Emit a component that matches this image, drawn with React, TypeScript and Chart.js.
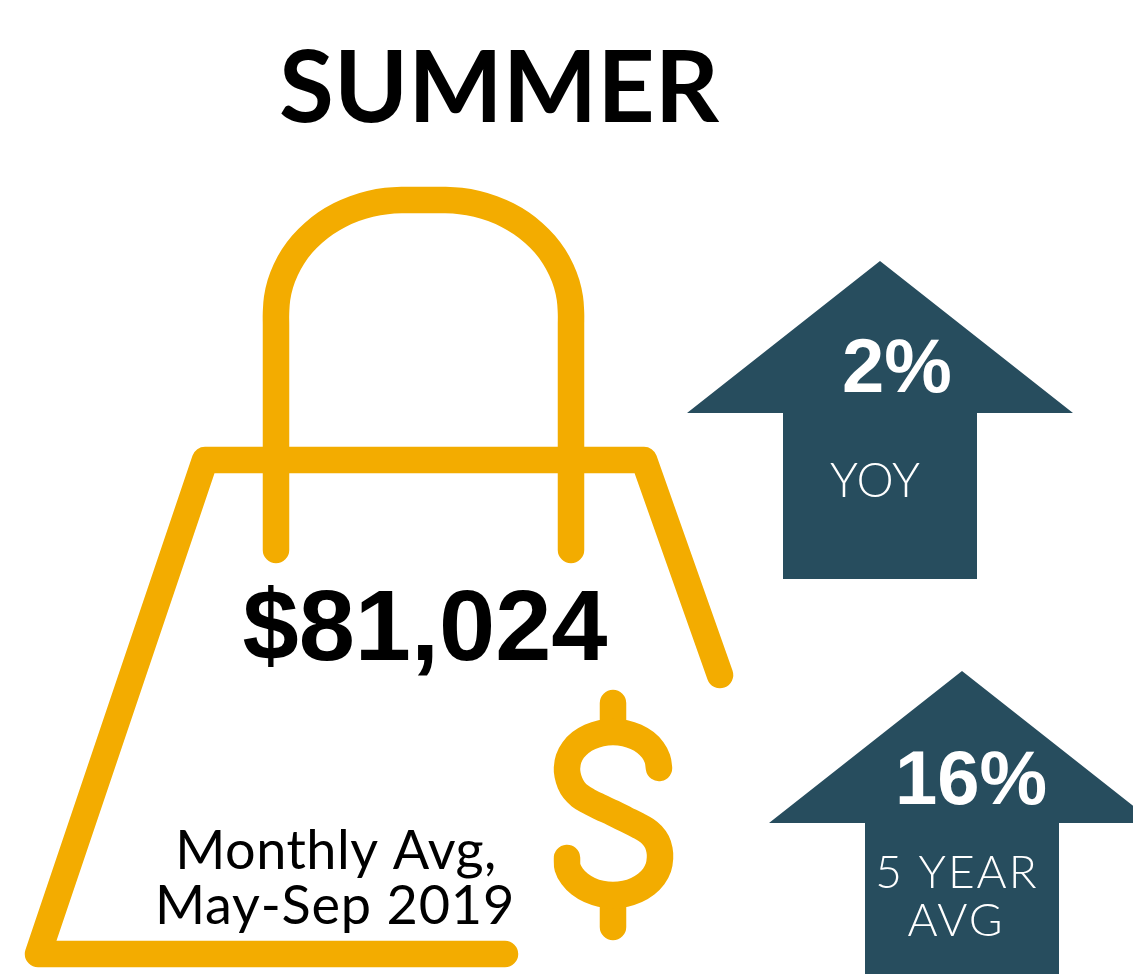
import React, { useEffect, useRef } from "react";
import { Chart, registerables } from "chart.js";

Chart.register(...registerables);

const GOLD = "#F3AC00";
const SLATE = "#274D5E";

const bagX = [505, 38, 205, 644, 720];
const bagY = [954, 954, 460, 460, 675];

const handleX = [276, 276, 276, 277.1, 280.3, 285.7, 293, 302.2, 313.2, 325.7, 339.5, 354.4, 370.1, 386.4, 403, 423.5, 444, 460.6, 476.9, 492.6, 507.5, 521.3, 533.8, 544.8, 554, 561.3, 566.7, 569.9, 571, 571, 571];
const handleY = [550, 325, 313, 298.3, 283.8, 269.8, 256.5, 244.2, 233.1, 223.3, 215.1, 208.6, 203.9, 201, 200, 200, 200, 201, 203.9, 208.6, 215.1, 223.3, 233.1, 244.2, 256.5, 269.8, 283.8, 298.3, 313, 325, 550];

const dollarX = [659, 657.4, 652.8, 645.5, 636, 624.9, 613, 601.1, 590, 580.5, 573.2, 568.6, 567, 567.6, 570, 574, 580, 588, 600, 613, 626, 638, 646, 652, 657, 659.5, 660, 658.4, 653.7, 646.2, 636.5, 625.2, 613, 600.8, 589.5, 579.8, 572.3, 567.6, 567];
const dollarY = [768, 758.7, 750, 742.5, 736.8, 733.2, 732, 733.2, 736.8, 742.5, 750, 758.7, 768, 775, 783, 790, 796, 801, 807, 813, 819.5, 825.5, 830, 835, 842, 850, 858, 867.6, 876.5, 884.2, 890, 893.7, 895, 893.7, 890, 884.2, 876.5, 867.6, 858];
const stickTopX = [613, 613];
const stickTopY = [703, 730];
const stickBottomX = [613, 613];
const stickBottomY = [897, 927];

const arrowOneX = [880, 1073, 977, 977, 783, 783, 687, 880];
const arrowOneY = [261, 413, 413, 579, 579, 413, 413, 261];
const arrowTwoX = [962, 1155, 1059, 1059, 865, 865, 769, 962];
const arrowTwoY = [671, 823, 823, 1000, 1000, 823, 823, 671];

const labels = ["SUMMER", "$81,024", "Monthly Avg,", "May-Sep 2019", "2%", "YOY", "16%", "5 YEAR", "AVG"];
const labelX = [499, 425, 336, 335, 897, 875, 971, 957, 956];
const labelY = [122, 660, 869, 924, 392, 497, 804, 888, 936];
const labelFonts = [
  "700 100px Lato",
  "bold 101px 'Liberation Sans'",
  "400 54px Lato",
  "400 54px Lato",
  "bold 76px 'Liberation Sans'",
  "300 47px Lato",
  "bold 76px 'Liberation Sans'",
  "300 46px Lato",
  "300 46px Lato",
];
const labelSpacing = ["0px", "0px", "0.5px", "0.8px", "0px", "0px", "0px", "2px", "2px"];
const labelColors = ["#000", "#000", "#000", "#000", "#fff", "#fff", "#fff", "#fff", "#fff"];

const zip = (xs: number[], ys: number[]) => xs.map((x, i) => ({ x, y: ys[i] }));

const stroke = (label: string, xs: number[], ys: number[], tension = 0) => ({
  label,
  data: zip(xs, ys),
  showLine: true,
  borderColor: GOLD,
  borderWidth: 26.5,
  borderCapStyle: "round" as const,
  borderJoinStyle: "round" as const,
  pointRadius: 0,
  tension,
  fill: false,
});

const polygon = (label: string, xs: number[], ys: number[]) => ({
  label,
  data: zip(xs, ys),
  showLine: true,
  borderColor: SLATE,
  backgroundColor: SLATE,
  borderWidth: 0,
  pointRadius: 0,
  tension: 0,
  fill: "shape" as const,
});

const textPlugin = {
  id: "infographicText",
  afterDatasetsDraw(chart: Chart) {
    const { ctx, scales } = chart;
    ctx.save();
    ctx.textAlign = "center";
    ctx.textBaseline = "alphabetic";
    labels.forEach((text, i) => {
      ctx.font = labelFonts[i];
      (ctx as any).letterSpacing = labelSpacing[i];
      ctx.fillStyle = labelColors[i];
      ctx.fillText(text, scales.x.getPixelForValue(labelX[i]), scales.y.getPixelForValue(labelY[i]));
    });
    ctx.restore();
  },
};

export default function App() {
  const ref = useRef<HTMLCanvasElement>(null);
  useEffect(() => {
    document.body.style.margin = "0";
    document.body.style.background = "#fff";
    const chart = new Chart(ref.current!, {
      type: "scatter",
      data: {
        datasets: [
          polygon("Arrow YOY", arrowOneX, arrowOneY),
          polygon("Arrow 5 year avg", arrowTwoX, arrowTwoY),
          stroke("Bag handle", handleX, handleY, 0.4),
          stroke("Bag", bagX, bagY),
          stroke("Dollar", dollarX, dollarY, 0.4),
          stroke("Dollar top", stickTopX, stickTopY),
          stroke("Dollar bottom", stickBottomX, stickBottomY),
        ],
      },
      options: {
        animation: false,
        responsive: false,
        layout: { padding: 0 },
        plugins: { legend: { display: false }, tooltip: { enabled: false }, title: { display: false } },
        scales: {
          x: { type: "linear", display: false, min: 0, max: 1133 },
          y: { type: "linear", display: false, min: 0, max: 974, reverse: true },
        },
      },
      plugins: [textPlugin],
    });
    return () => chart.destroy();
  }, []);
  return <canvas ref={ref} width={1133} height={974} style={{ display: "block" }} />;
}
